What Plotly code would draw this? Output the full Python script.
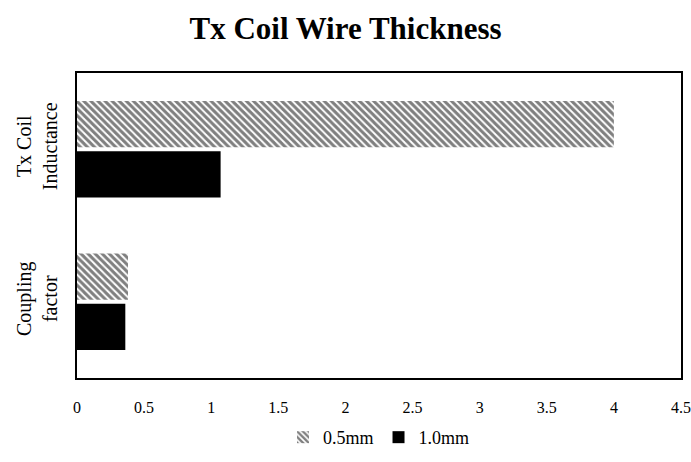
import plotly.graph_objects as go

categories = ["Tx Coil<br>Inductance", "Coupling<br>factor"]
wire_05mm = [4.0, 0.38]
wire_10mm = [1.07, 0.36]
x_ticks = [0, 0.5, 1, 1.5, 2, 2.5, 3, 3.5, 4, 4.5]
x_tick_text = ["0", "0.5", "1", "1.5", "2", "2.5", "3", "3.5", "4", "4.5"]

FONT = "Liberation Serif"

fig = go.Figure()
fig.add_trace(go.Bar(
    y=categories, x=wire_05mm, orientation="h", name="0.5mm",
    marker=dict(color="white", line=dict(width=0),
                pattern=dict(shape="\\", fgcolor="black", bgcolor="white",
                             size=5, solidity=0.6)),
))
fig.add_trace(go.Bar(
    y=categories, x=wire_10mm, orientation="h", name="1.0mm",
    marker=dict(color="black", line=dict(width=0)),
))

fig.update_layout(
    width=691, height=462,
    margin=dict(l=77, r=10, t=73, b=84, autoexpand=False),
    paper_bgcolor="white", plot_bgcolor="white",
    barmode="group", bargap=0.34, bargroupgap=0.08,
    title=dict(text="<b>Tx Coil Wire Thickness</b>", x=0.5, xanchor="center",
               y=0.94, yanchor="middle",
               font=dict(family=FONT, size=31, color="black")),
    font=dict(family=FONT, color="black"),
    showlegend=True,
    legend=dict(orientation="h", x=0.5, xanchor="center", y=-0.195, yanchor="middle",
                bgcolor="rgba(0,0,0,0)",
                font=dict(family=FONT, size=18, color="black"),
                itemwidth=30, tracegroupgap=0),
    xaxis=dict(range=[0, 4.5], tickvals=x_ticks, ticktext=x_tick_text,
               showgrid=False, zeroline=False, showline=True, linecolor="black",
               linewidth=2, mirror=True, ticks="", ticklabelstandoff=14,
               automargin=False,
               tickfont=dict(family=FONT, size=16, color="black")),
    yaxis=dict(autorange="reversed", showgrid=False, zeroline=False,
               showline=True, linecolor="black", linewidth=2, mirror=True,
               ticks="", tickangle=-90, ticklabelstandoff=10, automargin=False,
               tickfont=dict(family=FONT, size=20, color="black")),
)

fig.write_html("out.html")
